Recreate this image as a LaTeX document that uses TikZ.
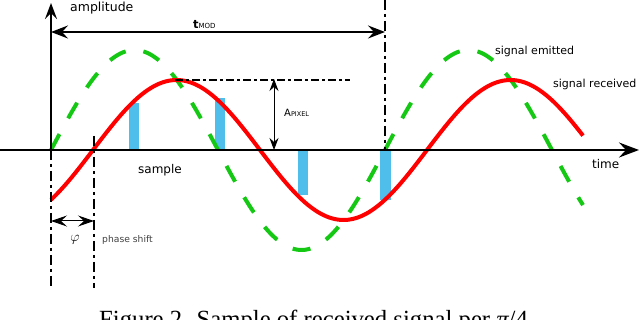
\documentclass[tikz,border=0pt]{standalone}
\usepackage{fontspec}
\setmainfont{DejaVu Sans}
\newfontfamily\capfont{Liberation Serif}
\usetikzlibrary{arrows.meta}
\definecolor{sigred}{RGB}{255,0,0}
\definecolor{siggreen}{RGB}{20,200,20}
\definecolor{sampblue}{RGB}{80,190,235}
\tikzset{
  dashdot/.style={line width=2pt, dash pattern=on 10pt off 4pt on 3pt off 4pt},
  dashdotthin/.style={line width=1.6pt, dash pattern=on 8pt off 3pt on 3pt off 3pt},
  bigtip/.style={-{Stealth[length=20pt,width=15pt,inset=7pt]}},
  midtip/.style={{Stealth[length=17pt,width=13pt,inset=6pt]}-{Stealth[length=17pt,width=13pt,inset=6pt]}},
  smalltip/.style={{Stealth[length=12pt,width=9pt,inset=4pt]}-{Stealth[length=12pt,width=9pt,inset=4pt]}},
  phasetip/.style={{Stealth[length=16pt,width=11pt,inset=6pt]}-{Stealth[length=16pt,width=11pt,inset=6pt]}},
  lbl/.style={inner sep=0pt, anchor=west, font=\fontsize{11}{11}\selectfont},
  samplebar/.style={fill=sampblue, draw=none},
  received/.style={sigred, line width=4pt},
  emitted/.style={siggreen, line width=4pt, dash pattern=on 18pt off 18pt},
}
\begin{document}
\begin{tikzpicture}[x=1pt,y=-1pt]
\useasboundingbox (0,0) rectangle (640,320);
% coordinates
\coordinate (O) at (51,150);
\coordinate (axL) at (0,150);
\coordinate (axR) at (639,150);
\coordinate (amTop) at (51,3);
\coordinate (leftBot) at (51,288);
\coordinate (phTop) at (94,136);
\coordinate (phBot) at (94,288);
\coordinate (perTop) at (385,0);
\coordinate (perBot) at (385,150);
\coordinate (tmL) at (51,32);
\coordinate (tmR) at (385,32);
\coordinate (pkL) at (175,80);
\coordinate (pkR) at (350,80);
\coordinate (apTop) at (274,79);
\coordinate (apBot) at (274,150);
\coordinate (phL) at (51,221);
\coordinate (phR) at (94,221);
% sample bars
\fill[samplebar] (129,103) rectangle (139,150);
\fill[samplebar] (215,98) rectangle (225,150);
\fill[samplebar] (298,150) rectangle (308,195);
\fill[samplebar] (380,150) rectangle (391,200);
% signals
\draw[emitted] plot[domain=51:583, samples=200, smooth] (\x, {150-100*sin((\x-51)/334*360)});
\draw[received] plot[domain=51:583, samples=200, smooth] (\x, {150-70*sin((\x-93)/334*360)});
% guide lines
\draw[dashdot] (O) -- (leftBot);
\draw[dashdot] (phTop) -- (phBot);
\draw[dashdot] (perTop) -- (perBot);
\draw[dashdotthin] (pkL) -- (pkR);
% axes
\draw[line width=2.5pt, bigtip] (axL) -- (axR);
\draw[line width=2pt, -{Stealth[length=16pt,width=12pt,inset=6pt]}] (O) -- (amTop);
% dimension arrows
\draw[line width=2pt, midtip] (tmL) -- (tmR);
\draw[line width=0.9pt, smalltip] (apTop) -- (apBot);
\draw[line width=1pt, phasetip] (phL) -- (phR);
% labels
\node[lbl, font=\fontsize{12.5}{12.5}\selectfont] (amp) at (70,8) {amplitude};
\node[lbl] (tmod) at (193,25) {{\fontsize{11.5}{11.5}\selectfont\bfseries t}{\fontsize{7}{7}\selectfont MOD}};
\node[lbl] (apix) at (284,113) {{\fontsize{10}{10}\selectfont A}{\fontsize{6.5}{6.5}\selectfont PIXEL}};
\node[lbl] (emit) at (495,51) {signal emitted};
\node[lbl] (recv) at (553,84) {signal received};
\node[lbl, font=\fontsize{12}{12}\selectfont] (time) at (592,164) {time};
\node[lbl, font=\fontsize{12}{12}\selectfont] (samp) at (138,170) {sample};
\node[inner sep=0pt, font=\fontsize{15}{15}\selectfont] (phi) at (75,240) {$\varphi$};
\node[lbl, font=\fontsize{9.2}{9.2}\selectfont, text=black!75] (phs) at (102,240) {phase shift};
\node[inner sep=0pt, anchor=base west] (cap) at (99,327) {\capfont\fontsize{24.7}{25}\selectfont Figure 2. Sample of received signal per {\itshape π}/4.};
\end{tikzpicture}
\end{document}
